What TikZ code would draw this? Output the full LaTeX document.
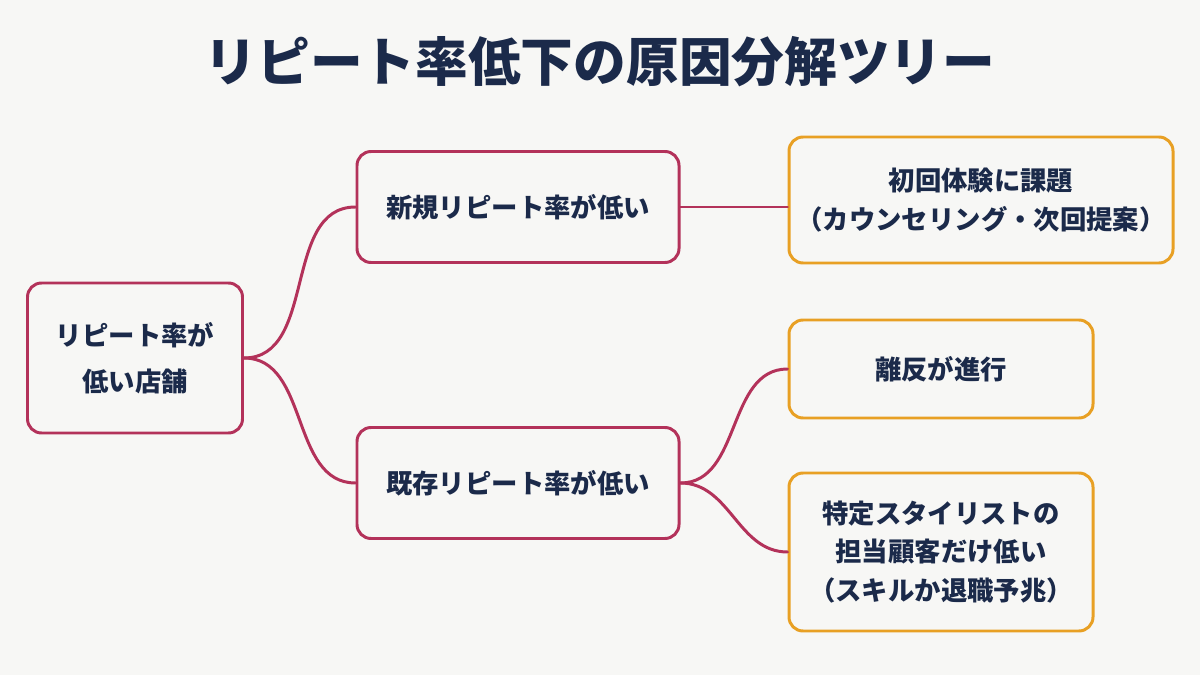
\documentclass[tikz,border=0pt]{standalone}
\usepackage{fontspec}
\newfontfamily\jp{Noto Sans CJK JP}
\definecolor{bgpaper}{HTML}{F7F7F5}
\definecolor{inkblue}{HTML}{1B2A4A}
\definecolor{wine}{HTML}{B3325A}
\definecolor{amber}{HTML}{E8A024}
\tikzset{
  box/.style={draw, line width=1.7pt, rounded corners=8pt, fill=bgpaper, align=center,
    text=inkblue, font=\jp\bfseries\fontsize{15}{22}\selectfont, inner sep=0pt},
  rootbox/.style={box, draw=wine, minimum width=215*0.02cm, minimum height=150*0.02cm},
  causebox/.style={box, draw=wine, minimum width=322*0.02cm, minimum height=111*0.02cm},
  leafbox/.style={box, draw=amber, minimum width=304*0.02cm},
  link/.style={line width=1.7pt, line cap=round}
}
\begin{document}
\begin{tikzpicture}[x=0.02cm,y=-0.02cm]
\useasboundingbox[fill=bgpaper] (0,0) rectangle (1200,675);
\node[text=inkblue, font=\jp\bfseries\fontsize{30}{36}\selectfont] (title) at (600,62) {リピート率低下の原因分解ツリー};

\node[rootbox] (root) at (135,358) {リピート率が\\[4pt]低い店舗};
\node[causebox] (new) at (518,207) {新規リピート率が低い};
\node[causebox] (old) at (518,483) {既存リピート率が低い};
\node[leafbox, minimum width=384*0.02cm, minimum height=126*0.02cm] (first) at (981,200) {初回体験に課題\\（カウンセリング・次回提案）};
\node[leafbox, minimum height=98*0.02cm] (churn) at (941,369) {離反が進行};
\node[leafbox, minimum height=158*0.02cm] (stylist) at (941,552) {特定スタイリストの\\担当顧客だけ低い\\（スキルか退職予兆）};

\draw[link, wine] (root.east) to[out=0,in=180] (new.west);
\draw[link, wine] (root.east) to[out=0,in=180] (old.west);
\draw[link, wine] (new.east) -- (first.west |- new.east);
\draw[link, wine] (old.east) to[out=0,in=180] (churn.west);
\draw[link, wine] (old.east) to[out=0,in=180] (stylist.west);
\end{tikzpicture}
\end{document}
